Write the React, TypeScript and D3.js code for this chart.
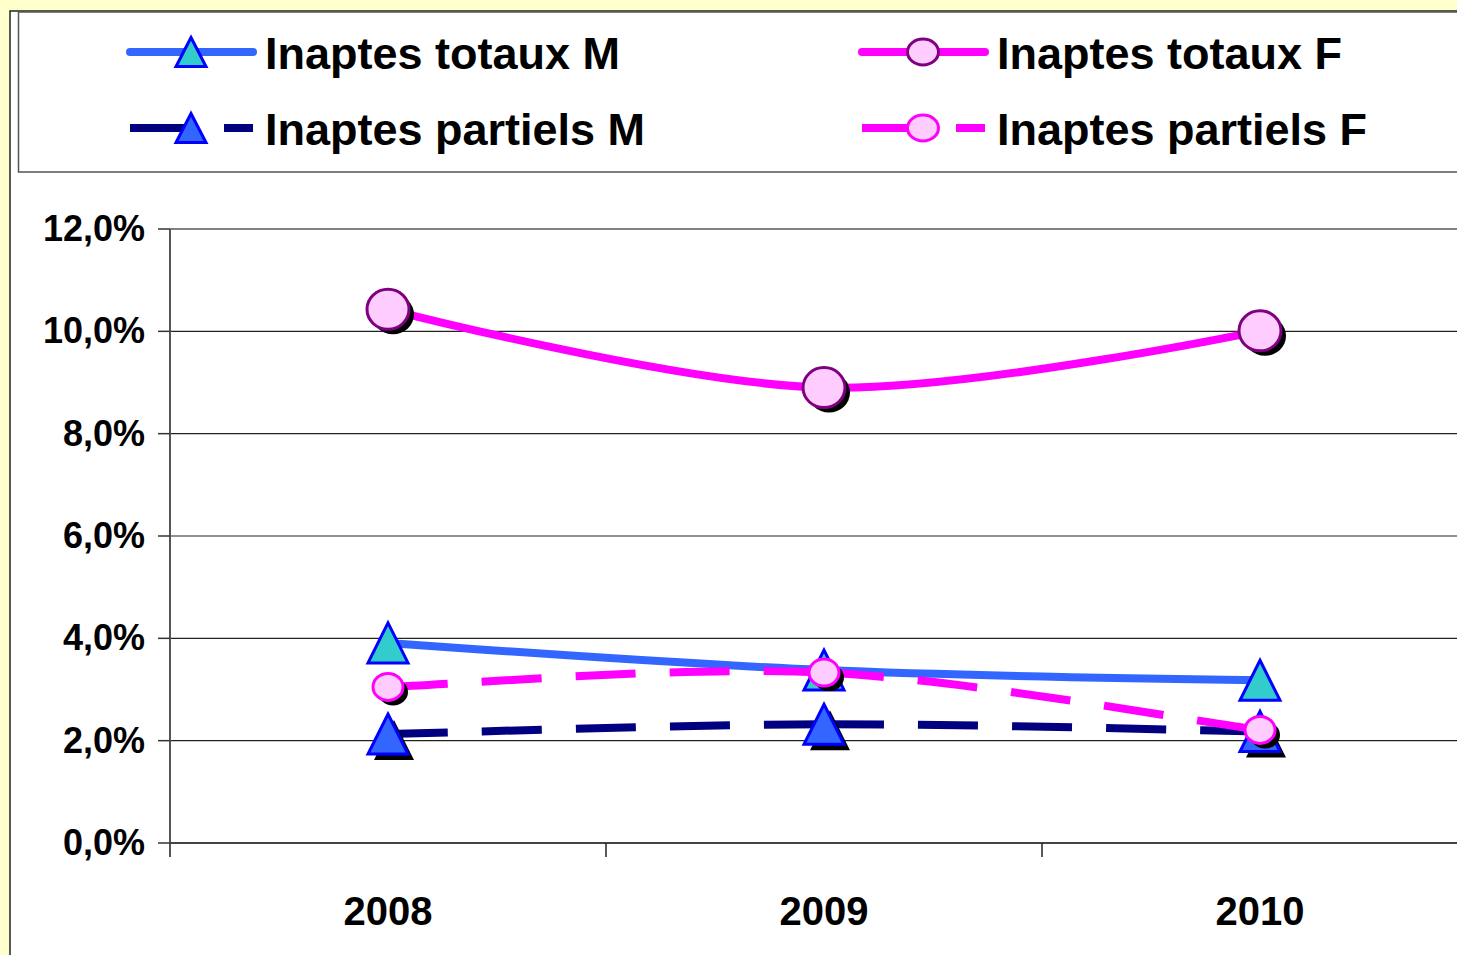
import * as d3 from "d3";

// Chart data
const years = ["2008", "2009", "2010"];
const totauxM = [3.91, 3.38, 3.18];
const partielsM = [2.13, 2.32, 2.18];
const totauxF = [10.43, 8.9, 10.01];
const partielsF = [3.05, 3.33, 2.21];
const yTicks = [0, 2, 4, 6, 8, 10, 12];

// labels in series order
const seriesLabels = [
  "Inaptes totaux M",
  "Inaptes partiels M",
  "Inaptes totaux F",
  "Inaptes partiels F",
];

const FONT = "'Liberation Sans', Arial, Helvetica, sans-serif";
const DASH = "60 34";

const fr = d3.formatLocale({
  decimal: ",",
  thousands: " ",
  grouping: [3],
  currency: ["", " €"],
});
const fmt = fr.format(".1f");

type Pt = [number, number];

// Excel-style smoothed line, one bezier per segment so dashes restart at each point
function segmentPaths(pts: Pt[]): string[] {
  const out: string[] = [];
  for (let i = 0; i < pts.length - 1; i++) {
    const p0 = pts[i - 1] ?? pts[i];
    const p1 = pts[i];
    const p2 = pts[i + 1];
    const p3 = pts[i + 2] ?? pts[i + 1];
    const p = d3.path();
    p.moveTo(p1[0], p1[1]);
    p.bezierCurveTo(
      p1[0] + (p2[0] - p0[0]) / 6,
      p1[1] + (p2[1] - p0[1]) / 6,
      p2[0] - (p3[0] - p1[0]) / 6,
      p2[1] - (p3[1] - p1[1]) / 6,
      p2[0],
      p2[1]
    );
    out.push(p.toString());
  }
  return out;
}

function triPath(x: number, y: number, w: number, h: number) {
  return `M${x},${y - h / 2}L${x + w / 2},${y + h / 2}L${x - w / 2},${y + h / 2}Z`;
}

type Series = {
  values: number[];
  line: string;
  dashed: boolean;
  marker: "tri" | "circle";
  fill: string;
  stroke: string;
  w: number;
  h: number;
  shadow: boolean;
};

const series: Series[] = [
  { values: totauxM, line: "#3366FF", dashed: false, marker: "tri", fill: "#33CCCC", stroke: "#0000FF", w: 40, h: 40, shadow: false },
  { values: partielsM, line: "#000080", dashed: true, marker: "tri", fill: "#3366FF", stroke: "#0000FF", w: 40, h: 40, shadow: true },
  { values: totauxF, line: "#FF00FF", dashed: false, marker: "circle", fill: "#FFCCFF", stroke: "#800080", w: 42, h: 40, shadow: true },
  { values: partielsF, line: "#FF00FF", dashed: true, marker: "circle", fill: "#FFCCFF", stroke: "#FF00FF", w: 30, h: 27, shadow: true },
];

function Marker({ s, x, y, w, h, shadow }: { s: Series; x: number; y: number; w: number; h: number; shadow: boolean }) {
  if (s.marker === "tri") {
    return (
      <g>
        {shadow && <path d={triPath(x + 6, y + 6, w, h)} fill="#000" />}
        <path d={triPath(x, y, w, h)} fill={s.fill} stroke={s.stroke} strokeWidth={3} strokeLinejoin="miter" />
      </g>
    );
  }
  return (
    <g>
      {shadow && <ellipse cx={x + 5} cy={y + 5} rx={w / 2} ry={h / 2} fill="#000" />}
      <ellipse cx={x} cy={y} rx={w / 2} ry={h / 2} fill={s.fill} stroke={s.stroke} strokeWidth={3} />
    </g>
  );
}

export default function App() {
  const W = 1457;
  const H = 955;
  const left = 170;
  const band = 436;

  const x = d3.scaleBand<string>().domain(years).range([left, left + band * years.length]).padding(0);
  const y = d3.scaleLinear().domain([0, 12]).range([843, 229]);
  const cx = (yr: string) => (x(yr) ?? 0) + x.bandwidth() / 2;

  const solidLine = d3
    .line<Pt>()
    .x((d) => d[0])
    .y((d) => d[1])
    .curve(d3.curveCardinal.tension(0));

  // legend: totaux M | totaux F on row 1, partiels M | partiels F on row 2
  const legendCols = [130, 862];
  const legendRows = [52, 128];
  const legendOrder = [0, 2, 1, 3];

  return (
    <svg
      width={W}
      height={H}
      style={{ position: "absolute", left: 0, top: 0, display: "block" }}
      fontFamily={FONT}
    >
      <rect x={0} y={0} width={W} height={H} fill="#FFFFCC" />
      <rect x={10} y={11} width={W + 20} height={H + 20} fill="#fff" stroke="#222" strokeWidth={1.5} />

      {/* legend */}
      <rect x={18.5} y={12} width={W + 20} height={160} fill="#fff" stroke="#555" strokeWidth={1.5} />
      {legendOrder.map((si, k) => {
        const s = series[si];
        const col = legendCols[k % 2];
        const row = legendRows[Math.floor(k / 2)];
        const mx = col + 61;
        return (
          <g key={si}>
            <line
              x1={col}
              x2={col + 123}
              y1={row}
              y2={row}
              stroke={s.line}
              strokeWidth={8}
              strokeLinecap={s.dashed ? "butt" : "round"}
              strokeDasharray={s.dashed ? DASH : undefined}
            />
            <Marker s={s} x={mx} y={row} w={s.marker === "tri" ? 30 : 31} h={s.marker === "tri" ? 29 : 26} shadow={false} />
            <text x={col + 135} y={row + 17} fontSize={45} fontWeight="bold" fill="#000">
              {seriesLabels[si]}
            </text>
          </g>
        );
      })}

      {/* gridlines */}
      {yTicks.map((t) => (
        <line
          key={t}
          x1={left}
          x2={W}
          y1={y(t)}
          y2={y(t)}
          stroke={t === 12 ? "#808080" : "#222"}
          strokeWidth={t === 12 ? 2 : 1.2}
        />
      ))}

      {/* y axis */}
      <line x1={left} x2={left} y1={y(12)} y2={y(0) + 14} stroke="#555" strokeWidth={2} />
      {yTicks.map((t) => (
        <g key={t}>
          <line x1={left - 12} x2={left} y1={y(t)} y2={y(t)} stroke="#333" strokeWidth={1.5} />
          <text x={145} y={y(t) + 12} textAnchor="end" fontSize={36} fontWeight="bold" fill="#000">
            {fmt(t)}%
          </text>
        </g>
      ))}

      {/* x axis */}
      <line x1={left} x2={W} y1={y(0)} y2={y(0)} stroke="#444" strokeWidth={2} />
      {years.map((yr, i) =>
        i === 0 ? null : (
          <line key={yr} x1={x(yr)} x2={x(yr)} y1={y(0)} y2={y(0) + 14} stroke="#222" strokeWidth={1.5} />
        )
      )}
      {years.map((yr) => (
        <text key={yr} x={cx(yr)} y={925} textAnchor="middle" fontSize={40} fontWeight="bold" fill="#000">
          {yr}
        </text>
      ))}

      {/* series */}
      {series.map((s, si) => {
        const pts: Pt[] = s.values.map((v, i) => [cx(years[i]), y(v)]);
        return (
          <g key={si}>
            {s.dashed ? (
              segmentPaths(pts).map((d, k) => (
                <path key={k} d={d} fill="none" stroke={s.line} strokeWidth={8} strokeDasharray={DASH} />
              ))
            ) : (
              <path d={solidLine(pts) ?? ""} fill="none" stroke={s.line} strokeWidth={8} />
            )}
            {pts.map((p, i) => (
              <Marker key={i} s={s} x={p[0]} y={p[1]} w={s.w} h={s.h} shadow={s.shadow} />
            ))}
          </g>
        );
      })}
    </svg>
  );
}
